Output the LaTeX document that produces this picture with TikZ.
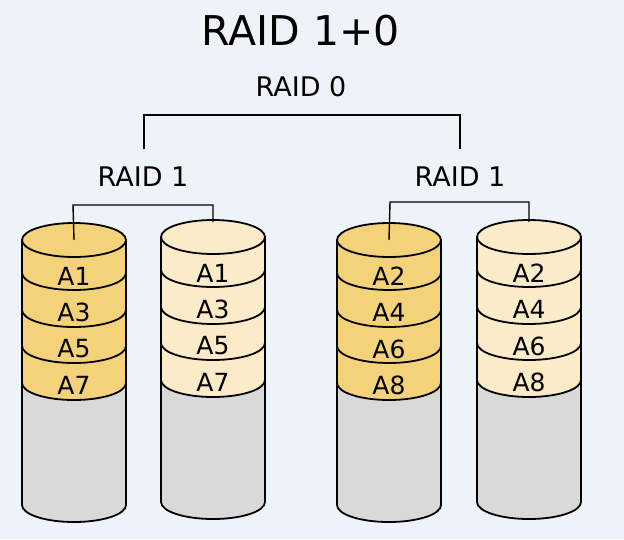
\documentclass[tikz,border=0pt]{standalone}
\usepackage{fontspec}
\setmainfont{DejaVu Sans}
\definecolor{bgblue}{RGB}{238,243,249}
\definecolor{stripdark}{RGB}{244,210,122}
\definecolor{striplight}{RGB}{251,235,201}
\definecolor{diskgrey}{RGB}{217,217,217}
\tikzset{
  outline/.style={draw=black, line width=1.8pt},
  link/.style={draw=black, line width=1.4pt},
  lbl/.style={font=\fontsize{25}{25}\selectfont},
}
% disk: left x, top-ellipse centre y, strip colour, name, labels
\newcommand{\raiddisk}[5]{%
  \fill[diskgrey] (#1,#2) -- (#1,#2+265) arc (180:0:52 and 17) -- (#1+104,#2) -- cycle;
  \fill[#3] (#1,#2) -- (#1,#2+143) arc (180:0:52 and 17) -- (#1+104,#2) -- cycle;
  \foreach \k in {33,70,106,143}
    \draw[outline] (#1,#2+\k) arc (180:0:52 and 17);
  \draw[outline] (#1,#2) -- (#1,#2+265) arc (180:0:52 and 17) -- (#1+104,#2);
  \draw[outline, fill=#3] (#1+52,#2) ellipse (52 and 17);
  \coordinate (#4) at (#1+52,#2);
  \foreach \t [count=\i from 0] in {#5}
    \node[lbl] at (#1+52,#2+36+36.5*\i) {\t};
}
\begin{document}
\begin{tikzpicture}[x=1pt,y=-1pt]
  \fill[bgblue] (0,0) rectangle (624,539);
  \useasboundingbox (0,0) rectangle (624,539);

  % Titel
  \node[font=\fontsize{41}{41}\selectfont] (title) at (301,31) {RAID 1+0};
  \node[font=\fontsize{27}{27}\selectfont] (raid0) at (301,87) {RAID 0};
  \node[font=\fontsize{27}{27}\selectfont] (raid1l) at (143,177) {RAID 1};
  \node[font=\fontsize{27}{27}\selectfont] (raid1r) at (460,177) {RAID 1};
  \coordinate (b0l) at (144,149);
  \coordinate (b0r) at (460,149);

  % Schijven
  \raiddisk{22}{240}{stripdark}{d1}{A1,A3,A5,A7}
  \raiddisk{161}{237}{striplight}{d2}{A1,A3,A5,A7}
  \raiddisk{337}{240}{stripdark}{d3}{A2,A4,A6,A8}
  \raiddisk{477}{237}{striplight}{d4}{A2,A4,A6,A8}

  % Verbindingen
  \draw[link] (b0l) -- (144,115) -| (b0r);
  \draw[link] (d1) -- (73,205) -| ([yshift=15]d2);
  \draw[link] (d3) -- (390,202) -| ([yshift=15]d4);
\end{tikzpicture}
\end{document}
